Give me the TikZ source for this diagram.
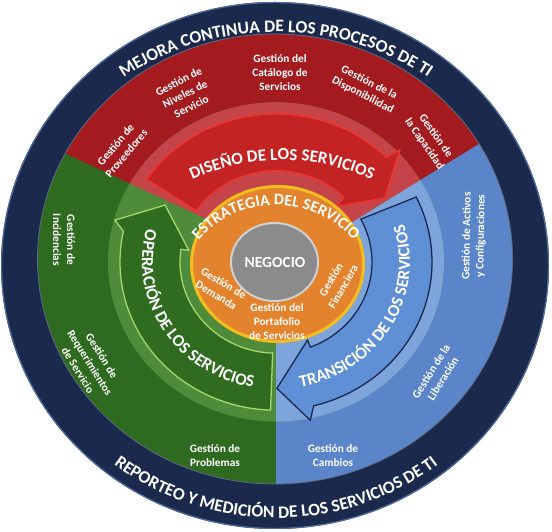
\documentclass[tikz,border=0pt]{standalone}
\usepackage{fontspec}
\setmainfont{Carlito}
\usetikzlibrary{decorations.text}
\definecolor{navy}{HTML}{1B2A4C}
\definecolor{rim}{HTML}{4B6A9C}
\definecolor{dred}{HTML}{A31B1F}
\definecolor{lred}{HTML}{C4444A}
\definecolor{rarrow}{HTML}{C42323}
\definecolor{rline}{HTML}{EC3530}
\definecolor{dgreen}{HTML}{2E6A1F}
\definecolor{lgreen}{HTML}{4E8B3B}
\definecolor{garrow}{HTML}{2F6C1F}
\definecolor{gline}{HTML}{A6D66C}
\definecolor{dblue}{HTML}{5A86C9}
\definecolor{lblue}{HTML}{7EA4DC}
\definecolor{barrow}{HTML}{5F8FD5}
\definecolor{bline}{HTML}{1A2950}
\definecolor{orng}{HTML}{E4832E}
\definecolor{yring}{HTML}{F4BD1E}
\definecolor{gry}{HTML}{8B8B8B}
\definecolor{gryline}{HTML}{D0D0D0}
\newcommand\titlefont{\fontsize{17.5}{17.5}\selectfont\bfseries}
\newcommand\arrowfont{\fontsize{17}{17}\selectfont\bfseries}
\newcommand\strfont{\fontsize{16}{16}\selectfont\bfseries}
\tikzset{
  lbl/.style={text=white, align=center, inner sep=0pt,
    font=\fontsize{11.3}{14}\selectfont\bfseries},
  curved/.style={decorate, decoration={text along path, text align=center,
    text color=white, text={#1}}}
}
\begin{document}
\begin{tikzpicture}[x=1pt,y=1pt]
\useasboundingbox (0,0) rectangle (552,532);
\fill[white] (0,0) rectangle (552,532);
% outer ring
\fill[navy] (275,266.5) ellipse [x radius=274, y radius=263.5];
\draw[rim, line width=1.2] (275,266.5) ellipse [x radius=273.4, y radius=262.9];
% sectors
\begin{scope}
  \clip (275,273) ellipse [x radius=237.5, y radius=225];
  \fill[dgreen] (0,0) rectangle (552,532);
  \fill[dblue] (276,-68) -- (276,263) -- (692,519.7) -- (692,-68) -- cycle;
  \fill[dred] (-124,466.8) -- (292,273) -- (692,519.7) -- (692,632) -- (-124,632) -- cycle;
\end{scope}
\draw[navy!70!white, line width=0.8] (275,273) ellipse [x radius=237.5, y radius=225];
% light band
\begin{scope}
  \clip (276,270) ellipse [x radius=168, y radius=159.6];
  \fill[lgreen] (0,0) rectangle (552,532);
  \fill[lblue] (276,-68) -- (276,263) -- (692,519.7) -- (692,-68) -- cycle;
  \fill[lred] (-124,466.8) -- (292,273) -- (692,519.7) -- (692,632) -- (-124,632) -- cycle;
\end{scope}
% arrows
\begin{scope}[shift={(276,270)}, yscale=0.95]
  \filldraw[fill=rarrow, draw=rline, line width=1.6, line join=round]
    (146:96) -- (146:156) arc[start angle=146, end angle=45, radius=156]
    -- (43.6:171) -- (31.6:128) -- (44:84) -- (45:96)
    arc[start angle=45, end angle=146, radius=96] -- cycle;
  \filldraw[fill=barrow, draw=bline, line width=1.3, line join=miter]
    (28:96) -- (26:156) arc[start angle=26, end angle=-76, radius=156]
    -- (-78.4:170) -- (-89.6:133) -- (-69:88) -- (-69:96)
    arc[start angle=-69, end angle=28, radius=96] -- cycle;
  \filldraw[fill=garrow, draw=gline, line width=1.3, line join=miter]
    (268:96) -- (268:156) arc[start angle=268, end angle=168, radius=156]
    -- (164.7:167) -- (151.6:126) -- (172:88) -- (172:96)
    arc[start angle=172, end angle=268, radius=96] -- cycle;
\end{scope}
% centre
\filldraw[fill=orng, draw=yring, line width=3] (277.5,268) ellipse [x radius=86, y radius=77.5];
\filldraw[fill=gry, draw=gryline, line width=2] (274.5,270) ellipse [x radius=43.5, y radius=39];

% curved titles
\path[curved={|\titlefont|MEJORA CONTINUA DE LOS PROCESOS DE TI}]
  (276,264) ++(145:258 and 236) arc[start angle=145, end angle=35, x radius=258, y radius=236];
\path[curved={|\titlefont|REPORTEO Y MEDICIÓN DE LOS SERVICIOS DE TI}]
  (276,264) ++(215:262 and 250) arc[start angle=215, end angle=325, x radius=262, y radius=250];
\path[curved={|\arrowfont|DISEÑO DE LOS SERVICIOS}]
  (282,159) ++(124:213) arc[start angle=124, end angle=56, radius=213];
\path[curved={|\arrowfont|OPERACIÓN DE LOS SERVICIOS}]
  (276,270) ++(163:134 and 127.3) arc[start angle=163, end angle=262, x radius=134, y radius=127.3];
\path[curved={|\arrowfont|TRANSICIÓN DE LOS SERVICIOS}]
  (276,270) ++(-80:134 and 127.3) arc[start angle=-80, end angle=18, x radius=134, y radius=127.3];
\path[curved={|\strfont|ESTRATEGIA DEL SERVICIO}]
  (276,224) ++(152:103) arc[start angle=152, end angle=28, radius=103];

\node[text=white, font=\fontsize{15.5}{15.5}\selectfont\bfseries] (neg) at (275,270) {NEGOCIO};

% labels red
\node[lbl, rotate=50] (prov) at (121,383) {Gestión de\\Proveedores};
\node[lbl, rotate=27] (niv) at (185,438) {Gestión de\\Niveles de\\Servicio};
\node[lbl] (cat) at (280,459) {Gestión del\\Catálogo de\\Servicios};
\node[lbl, rotate=-27] (disp) at (366,443) {Gestión de la\\Disponibilidad};
\node[lbl, rotate=-55] (cap) at (430,392) {Gestión de\\la Capacidad};
% labels green
\node[lbl, rotate=-90] (inc) at (64,292) {Gestión de\\Incidencias};
\node[lbl, rotate=-58] (req) at (90,169) {Gestión de\\Requerimientos\\de Servicio};
\node[lbl] (prob) at (215,76) {Gestión de\\Problemas};
% labels blue
\node[lbl] (camb) at (333,76) {Gestión de\\Cambios};
\node[lbl, rotate=89] (act) at (474,296) {Gestión de Activos\\y Configuraciones};
\node[lbl, rotate=58] (lib) at (437,157) {Gestión de la\\Liberación};
% labels orange
\node[lbl, rotate=-31] (dem) at (220,243) {Gestión de\\Demanda};
\node[lbl] (port) at (277,210) {Gestión del\\Portafolio\\de Servicios};
\node[lbl, rotate=60] (fin) at (337,249) {Gestión\\Financiera};
\end{tikzpicture}
\end{document}
